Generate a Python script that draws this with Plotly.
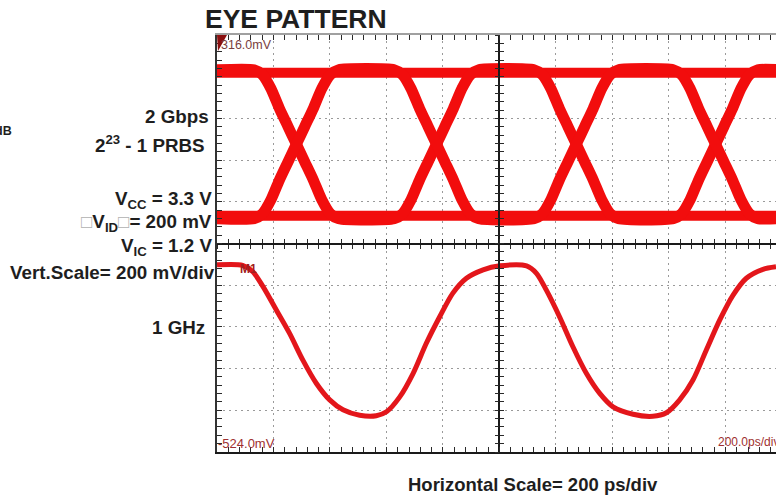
import plotly.graph_objects as go

# ---------------- data ----------------
# time in ps (200 ps/div), amplitude in mV (scope screen: 316 mV top, -524 mV bottom)
eye_flat_t = [0, 1990]
eye_high = [240, 240]
eye_low = [-48, -48]

eye_t = [0, 131, 161, 191, 221, 251, 281, 311, 341, 371, 401, 431,
         627, 657, 687, 717, 747, 777, 807, 837, 867, 897, 927,
         1122, 1152, 1182, 1212, 1242, 1272, 1302, 1332, 1362, 1392, 1422,
         1615, 1645, 1675, 1705, 1735, 1765, 1795, 1825, 1855, 1885, 1915, 1990]
eye_a = [246, 246, 236, 208, 168, 132, 96, 60, 24, -16, -44, -54,
         -54, -44, -16, 24, 60, 96, 132, 168, 208, 236, 246,
         246, 236, 208, 168, 132, 96, 60, 24, -16, -44, -54,
         -54, -44, -16, 24, 60, 96, 132, 168, 208, 236, 246, 246]
eye_b = [-54, -54, -44, -16, 24, 60, 96, 132, 168, 208, 236, 246,
         246, 236, 208, 168, 132, 96, 60, 24, -16, -44, -54,
         -54, -44, -16, 24, 60, 96, 132, 168, 208, 236, 246,
         246, 236, 208, 168, 132, 96, 60, 24, -16, -44, -54, -54]

clk_t = [0, 91, 127, 163, 210, 257, 304, 352, 399, 446, 505, 564, 600, 647, 694,
         741, 788, 835, 883, 942, 1001, 1096, 1131, 1166, 1213, 1260, 1308, 1355,
         1402, 1473, 1543, 1591, 1638, 1685, 1732, 1780, 1827, 1874, 1933, 1979]
clk_v = [-147, -148, -161, -191, -238, -285, -339, -386, -419, -439, -450, -451, -443, -413, -366,
         -305, -252, -204, -174, -157, -149, -149, -164, -198, -252, -312, -366, -406,
         -433, -448, -452, -445, -419, -379, -319, -258, -208, -174, -156, -151]

x_range = [0, 1979]
y_range = [-524, 316]

side_labels = ["2 Gbps", "2<sup>23</sup> - 1 PRBS", "V<sub>CC</sub> = 3.3 V",
               "<span style='color:#b0b0b0'>\u25a1</span>V<sub>ID</sub><span style='color:#b0b0b0'>\u25a1</span>= 200 mV",
               "V<sub>IC</sub> = 1.2 V", "Vert.Scale= 200 mV/div", "1 GHz"]

# ---------------- layout helpers ----------------
L, T, W, H = 217, 35, 559, 417
FIG_W, FIG_H = 776, 495


def pxx(x):
    return (x - L) / W


def pxy(y):
    return (T + H - y) / H


RED = "#f20d0d"
FONT = "Liberation Sans, Arial, sans-serif"

fig = go.Figure()

for yy in (eye_high, eye_low):
    fig.add_trace(go.Scatter(x=eye_flat_t, y=yy, mode="lines",
                             line=dict(color=RED, width=10), hoverinfo="skip"))
for yy in (eye_a, eye_b):
    fig.add_trace(go.Scatter(x=eye_t, y=yy, mode="lines",
                             line=dict(color=RED, width=11, shape="spline", smoothing=0.6),
                             hoverinfo="skip"))
fig.add_trace(go.Scatter(x=clk_t, y=clk_v, mode="lines",
                         line=dict(color="#e3161b", width=5, shape="spline", smoothing=0.8),
                         hoverinfo="skip"))

# dummy traces so that overlay axes are drawn
for xa, ya in (("x2", "y"), ("x3", "y"), ("x4", "y"), ("x", "y2"), ("x", "y3")):
    fig.add_trace(go.Scatter(x=[None], y=[None], xaxis=xa, yaxis=ya, hoverinfo="skip"))

tick_dark = "#2a2a2a"
common_x = dict(range=x_range, dtick=200, tick0=0, showticklabels=False, zeroline=False)
common_y = dict(range=y_range, dtick=84, tick0=-524, showticklabels=False, zeroline=False)

fig.update_layout(
    width=FIG_W, height=FIG_H,
    margin=dict(l=L, r=0, t=T, b=FIG_H - T - H),
    paper_bgcolor="white", plot_bgcolor="white",
    showlegend=False,
    font=dict(family=FONT, color="#1e1e1e"),
    xaxis=dict(**common_x, showline=True, linecolor="#1a1a1a", linewidth=2,
               ticks="inside", ticklen=5, tickcolor=tick_dark,
               showgrid=True, gridcolor="#9a9a9a", gridwidth=1, griddash="2px,4px",
               minor=dict(dtick=40, tick0=0, ticks="inside", ticklen=5, tickcolor=tick_dark, showgrid=False)),
    yaxis=dict(**common_y, showline=True, linecolor="#333333", linewidth=2,
               ticks="inside", ticklen=5, tickcolor=tick_dark,
               showgrid=True, gridcolor="#9a9a9a", gridwidth=1, griddash="2px,4px",
               minor=dict(dtick=16.8, tick0=-524, ticks="inside", ticklen=5, tickcolor=tick_dark, showgrid=False)),
    xaxis2=dict(**common_x, overlaying="x", side="top", anchor="y", showline=True,
                linecolor="#a0a0a0", linewidth=2, ticks="inside", ticklen=5, tickcolor=tick_dark,
                showgrid=False,
                minor=dict(dtick=40, tick0=0, ticks="inside", ticklen=5, tickcolor=tick_dark)),
    xaxis3=dict(**common_x, overlaying="x", anchor="free", position=0.5, showline=True,
                linecolor="#1a1a1a", linewidth=1.5, ticks="inside", ticklen=4, tickcolor=tick_dark,
                showgrid=False,
                minor=dict(dtick=40, tick0=0, ticks="inside", ticklen=4, tickcolor=tick_dark)),
    xaxis4=dict(**common_x, overlaying="x", anchor="free", position=0.5, showline=False,
                ticks="outside", ticklen=4, tickcolor=tick_dark, showgrid=False,
                minor=dict(dtick=40, tick0=0, ticks="outside", ticklen=4, tickcolor=tick_dark)),
    yaxis2=dict(**common_y, overlaying="y", anchor="free", position=1000 / x_range[1], showline=True,
                linecolor="#1a1a1a", linewidth=1.5, ticks="inside", ticklen=4, tickcolor=tick_dark,
                showgrid=False,
                minor=dict(dtick=16.8, tick0=-524, ticks="inside", ticklen=4, tickcolor=tick_dark)),
    yaxis3=dict(**common_y, overlaying="y", anchor="free", position=1000 / x_range[1], showline=False,
                ticks="outside", ticklen=4, tickcolor=tick_dark, showgrid=False,
                minor=dict(dtick=16.8, tick0=-524, ticks="outside", ticklen=4, tickcolor=tick_dark)),
)

ann = []
# title
ann.append(dict(text="<b>EYE PATTERN</b>", x=pxx(296), y=pxy(19), xref="paper", yref="paper",
                xanchor="center", yanchor="middle", showarrow=False, font=dict(size=26.5, family=FONT)))
# left side texts (right aligned)
side_pos = [(211, 116), (207, 144), (214, 200), (214, 223), (214, 247), (217, 272), (207, 327)]
for txt, (xp, yp) in zip(side_labels, side_pos):
    ann.append(dict(text="<b>" + txt + "</b>", x=pxx(xp), y=pxy(yp), xref="paper", yref="paper",
                    xanchor="right", yanchor="middle", showarrow=False, font=dict(size=18.8, family=FONT)))
ann.append(dict(text="<b>dB</b>", x=pxx(14), y=pxy(131), xref="paper", yref="paper",
                xanchor="right", yanchor="middle", showarrow=False, font=dict(size=12.5, family=FONT)))
ann.append(dict(text="<b>Horizontal Scale= 200 ps/div</b>", x=pxx(533), y=pxy(484), xref="paper", yref="paper",
                xanchor="center", yanchor="middle", showarrow=False, font=dict(size=18.5, family=FONT)))
# scope screen labels
ann.append(dict(text="316.0mV", x=pxx(219), y=pxy(45), xref="paper", yref="paper",
                xanchor="left", yanchor="middle", showarrow=False, font=dict(size=12.5, color="#7a4040")))
ann.append(dict(text="-524.0mV", x=pxx(216), y=pxy(443), xref="paper", yref="paper",
                xanchor="left", yanchor="middle", showarrow=False, font=dict(size=13, color="#a03030")))
ann.append(dict(text="200.0ps/div", x=pxx(781), y=pxy(442), xref="paper", yref="paper",
                xanchor="right", yanchor="middle", showarrow=False, font=dict(size=12, color="#a03030")))
ann.append(dict(text="<b>M1</b>", x=pxx(238), y=pxy(269), xref="paper", yref="paper",
                xanchor="left", yanchor="middle", showarrow=False, font=dict(size=12, color="#a02020")))
fig.update_layout(annotations=ann)

fig.add_shape(type="path", xref="paper", yref="paper", layer="above",
              path=f"M 0 1 L {pxx(227)} 1 L {pxx(218)} {pxy(51)} Z",
              fillcolor="#8b1010", line=dict(width=0))

fig.write_html("out.html",
               config={"displayModeBar": False},
               post_script=["document.documentElement.style.margin='0';"
                            "document.body.style.margin='0';"
                            "document.body.style.overflow='hidden';"])
